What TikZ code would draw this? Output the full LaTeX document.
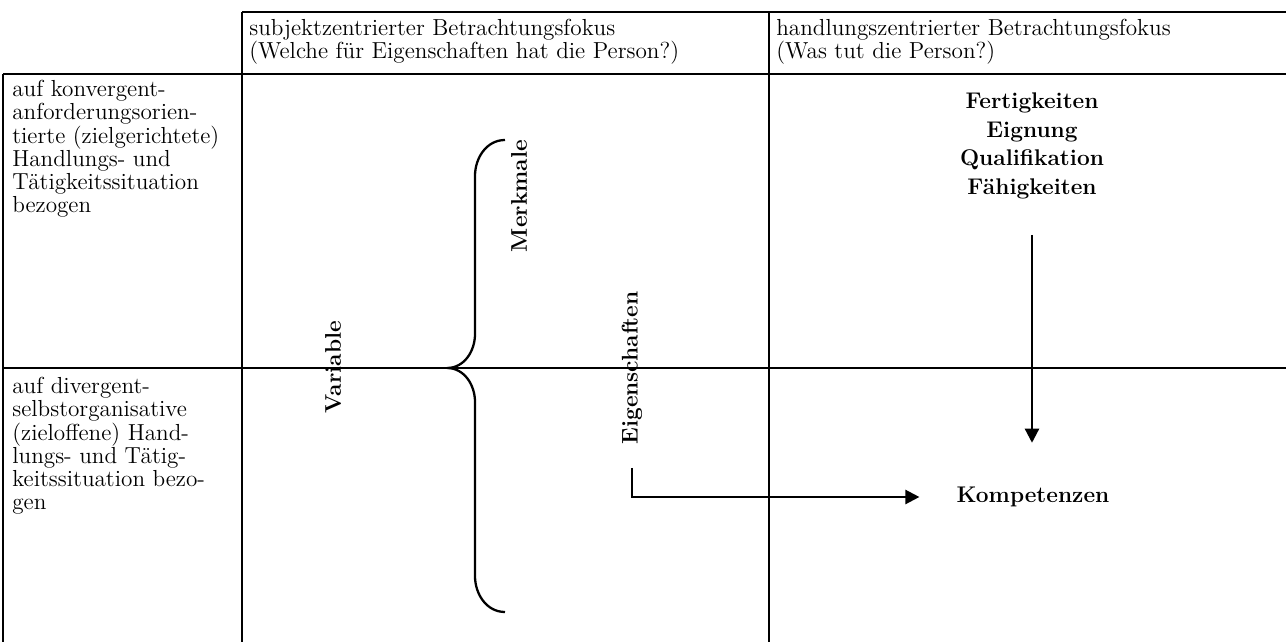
\documentclass[tikz,border=0pt]{standalone}
\usetikzlibrary{arrows.meta,positioning}
\begin{document}
\begin{tikzpicture}[x=0.02cm,y=-0.02cm,
    rahmen/.style={line width=1.3pt},
    zelltext/.style={inner sep=0pt,align=left,font=\fontsize{13.2}{13.2}\selectfont},
    fett/.style={inner sep=1pt,font=\fontsize{12.9}{16.4}\selectfont\bfseries},
    pfeil/.style={line width=1.3pt,-{Triangle[length=8pt,width=8pt]}}]
    % Bounding box
    \useasboundingbox (0,0) rectangle (1286,642);
    % Table lines
    \draw[rahmen] (242,12) -- (1286,12);
    \foreach \y in {74,368} {
        \draw[rahmen] (3,\y) -- (1286,\y);
    }
    \draw[rahmen] (3,74) -- (3,642);
    \foreach \x in {242,769} {
        \draw[rahmen] (\x,12) -- (\x,642);
    }

    % Header cells
    \node[zelltext,anchor=north west] (kopfsubjekt) at (249,19)
        {subjektzentrierter Betrachtungsfokus\\(Welche für Eigenschaften hat die Person?)};
    \node[zelltext,anchor=north west] (kopfhandlung) at (776,19)
        {handlungszentrierter Betrachtungsfokus\\(Was tut die Person?)};
    % Row cells
    \node[zelltext,anchor=north west] (konvergent) at (12,80)
        {auf konvergent-\\anforderungsorien-\\tierte (zielgerichtete)\\Handlungs- und\\Tätigkeitssituation\\bezogen};
    \node[zelltext,anchor=north west] (divergent) at (12,377)
        {auf divergent-\\selbstorganisative\\(zieloffene) Hand-\\lungs- und Tätig-\\keitssituation bezo-\\gen};

    % Vertical labels
    \node[fett,rotate=90] (variable) at (333,367) {Variable};
    \node[fett,rotate=90] (merkmale) at (519,196) {Merkmale};
    \node[fett,rotate=90] (eigenschaften) at (632,368) {Eigenschaften};

    % Brace
    \draw[rahmen] (505,140) to[out=180,in=90] (475,176) -- (475,334)
        to[out=-90,in=0] (447,368) to[out=0,in=90] (475,402) -- (475,576)
        to[out=-90,in=180] (505,612);

    % Right column
    \node[fett,align=center] (liste) at (1032,146)
        {Fertigkeiten\\Eignung\\Qualifikation\\Fähigkeiten};
    \node[fett] (komp) at (1033,497) {Kompetenzen};

    % Arrows
    \draw[pfeil,shorten <=19pt,shorten >=24pt] (liste.south) -- (liste.south |- komp.north);
    \draw[pfeil,shorten >=20pt] ([yshift=-12pt]eigenschaften.west) |- (komp.west);
\end{tikzpicture}
\end{document}
